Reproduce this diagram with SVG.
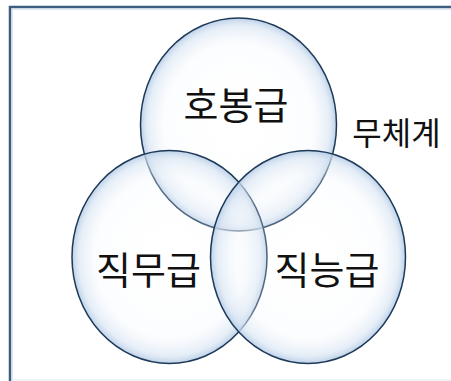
<svg xmlns="http://www.w3.org/2000/svg" width="451" height="381" viewBox="0 0 451 381">
  <defs>
    <radialGradient id="glow" cx="50%" cy="50%" r="50%">
      <stop offset="0%" stop-color="#ffffff" stop-opacity="0.1"/>
      <stop offset="75%" stop-color="#f4f8fc" stop-opacity="0.3"/>
      <stop offset="93%" stop-color="#d6e3f2" stop-opacity="0.65"/>
      <stop offset="100%" stop-color="#b5cce6" stop-opacity="0.9"/>
    </radialGradient>
  </defs>
  <style>
    .bg { fill: #ffffff; }
    .frame { fill: none; stroke: #3d5d80; stroke-width: 2.5; }
    .frame-in { fill: none; stroke: #dbe8f4; stroke-width: 1; }
    .set { fill: url(#glow); stroke: #1e3a58; stroke-width: 1.5; }
    .lbl { font-family: "Noto Sans CJK KR", "Noto Sans", sans-serif; fill: #111111; text-anchor: middle; }
    .big { font-size: 38px; }
    .mid { font-size: 32px; }
  </style>
  <rect class="bg" x="0" y="0" width="451" height="381"/>
  <rect class="frame" x="10" y="7" width="470" height="400"/>
  <rect class="frame-in" x="12.5" y="9.5" width="470" height="370.5"/>
  <g id="connectors"/>
  <g id="node-hobong">
    <ellipse class="set" cx="238.5" cy="124.5" rx="98" ry="106.5"/>
  </g>
  <g id="node-jikmu">
    <ellipse class="set" cx="169.5" cy="257" rx="97.5" ry="106.5"/>
  </g>
  <g id="node-jikneung">
    <ellipse class="set" cx="308" cy="257" rx="97.5" ry="106.5"/>
  </g>
  <g id="labels">
    <text class="lbl big" x="236" y="118.5">호봉급</text>
    <text class="lbl big" x="148.5" y="283.5">직무급</text>
    <text class="lbl big" x="327" y="283.5">직능급</text>
  </g>
  <g id="node-muchegye">
    <text class="lbl mid" x="396.5" y="144.5">무체계</text>
  </g>
</svg>
